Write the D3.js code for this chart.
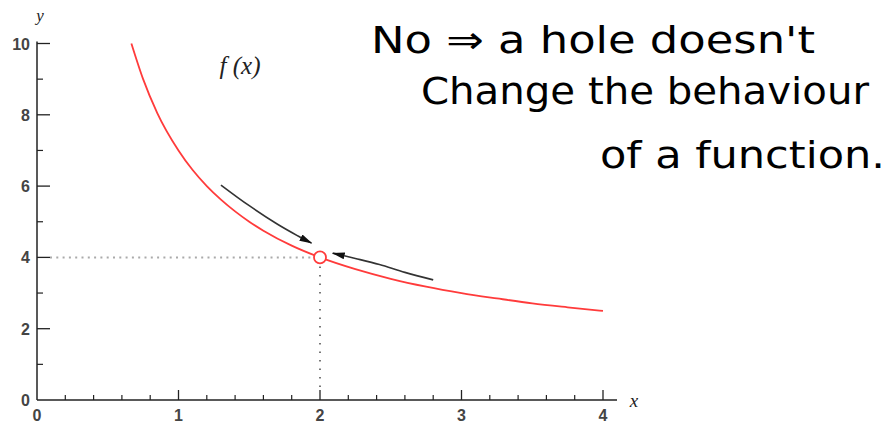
<!DOCTYPE html>
<html>
<head>
<meta charset="utf-8">
<script src="https://cdn.jsdelivr.net/npm/d3@7"></script>
<style>
  body { margin: 0; background: #fff; }
  svg { display: block; }
  .tick-label { font-family: "Liberation Sans", Arial, sans-serif; font-weight: bold; fill: #444; }
  .math { font-family: "Liberation Serif", "DejaVu Serif", serif; font-style: italic; fill: #222; }
  .note { font-family: "DejaVu Sans", sans-serif; font-weight: 400; font-size: 38px; fill: #000; }
</style>
</head>
<body>
<svg width="893" height="426"></svg>
<script>
/* globals d3 */

// curve points
var curveX = [0.667, 0.75, 0.85, 1, 1.1, 1.2, 1.3, 1.4, 1.5, 1.6, 1.8, 2, 2.25, 2.5, 2.75, 3, 3.25, 3.5, 3.75, 4];
var curveY = [10, 9, 8.05, 7, 6.45, 6, 5.62, 5.29, 5, 4.75, 4.33, 4, 3.67, 3.4, 3.18, 3, 2.85, 2.71, 2.6, 2.5];

// the hole
var holeX = 2, holeY = 4;

// the two arrows, drawn beside the curve
var arrowTopX = [1.3, 1.5, 1.7, 1.845, 1.94];
var arrowTopY = [6.03, 5.45, 4.93, 4.6, 4.4];
var arrowBotX = [2.8, 2.6, 2.42, 2.25, 2.09];
var arrowBotY = [3.37, 3.58, 3.8, 3.97, 4.12];

var xTicks = [0, 1, 2, 3, 4],
    yTicks = [0, 2, 4, 6, 8, 10];

var noteLines = ["No \u21D2 a hole doesn't", "Change the behaviour", "of a function."];

var svg = d3.select("svg");

var x = d3.scaleLinear().domain([0, 4]).range([37, 603]),
    y = d3.scaleLinear().domain([0, 10]).range([400, 43.5]);

var defs = svg.append("defs");
defs.append("marker")
  .attr("id", "head")
  .attr("viewBox", "0 0 13 7")
  .attr("refX", 12).attr("refY", 3.5)
  .attr("markerWidth", 13).attr("markerHeight", 7)
  .attr("markerUnits", "userSpaceOnUse")
  .attr("orient", "auto")
  .append("path")
  .attr("d", "M0,0 L13,3.5 L0,7 Z")
  .attr("fill", "#111");

// axes: ticks point inward
var minorX = d3.range(1, 21).map(function(i) { return i * 0.2; }).filter(function(v) { return Math.abs(v - Math.round(v)) > 0.01; });
var minorY = [1, 3, 5, 7, 9];

var gx = svg.append("g").attr("transform", "translate(0," + y(0) + ")");
gx.append("line").attr("x1", x(0)).attr("x2", 617).attr("stroke", "#222").attr("stroke-width", 1.5);
gx.selectAll(".maj").data(xTicks.filter(function(d) { return d > 0; })).enter().append("line")
  .attr("x1", function(d) { return x(d); }).attr("x2", function(d) { return x(d); })
  .attr("y1", 0).attr("y2", -10).attr("stroke", "#222").attr("stroke-width", 1.3);
gx.selectAll(".min").data(minorX).enter().append("line")
  .attr("x1", function(d) { return x(d); }).attr("x2", function(d) { return x(d); })
  .attr("y1", 0).attr("y2", -5).attr("stroke", "#222").attr("stroke-width", 1.2);
gx.selectAll("text").data(xTicks).enter().append("text")
  .attr("class", "tick-label")
  .attr("font-size", 16)
  .attr("x", function(d) { return x(d); })
  .attr("y", 21)
  .attr("text-anchor", "middle")
  .text(function(d) { return d; });

var gy = svg.append("g").attr("transform", "translate(" + x(0) + ",0)");
gy.append("line").attr("y1", y(0)).attr("y2", y(10) - 2).attr("stroke", "#222").attr("stroke-width", 1.5);
gy.selectAll(".maj").data(yTicks.filter(function(d) { return d > 0; })).enter().append("line")
  .attr("y1", function(d) { return y(d); }).attr("y2", function(d) { return y(d); })
  .attr("x1", 0).attr("x2", 13).attr("stroke", "#222").attr("stroke-width", 1.3);
gy.selectAll(".min").data(minorY).enter().append("line")
  .attr("y1", function(d) { return y(d); }).attr("y2", function(d) { return y(d); })
  .attr("x1", 0).attr("x2", 6).attr("stroke", "#222").attr("stroke-width", 1.2);
gy.selectAll("text").data(yTicks).enter().append("text")
  .attr("class", "tick-label")
  .attr("font-size", 16)
  .attr("x", -7)
  .attr("y", function(d) { return y(d) + 6; })
  .attr("text-anchor", "end")
  .text(function(d) { return d; });

svg.append("text").attr("class", "math").attr("x", 40).attr("y", 21)
  .attr("text-anchor", "middle").attr("font-size", 17).text("y");
svg.append("text").attr("class", "math").attr("x", 634).attr("y", 407)
  .attr("text-anchor", "middle").attr("font-size", 19).text("x");

// dotted guides
svg.append("line")
  .attr("x1", x(0) + 13).attr("x2", x(holeX) - 7)
  .attr("y1", y(holeY)).attr("y2", y(holeY))
  .attr("stroke", "#aaa").attr("stroke-width", 2).attr("stroke-dasharray", "2,4.3");
svg.append("line")
  .attr("x1", x(holeX)).attr("x2", x(holeX))
  .attr("y1", y(holeY) + 9).attr("y2", y(0) - 12)
  .attr("stroke", "#555").attr("stroke-width", 1.6).attr("stroke-dasharray", "1.5,7");

// the function
var pts = curveX.map(function(v, i) { return [v, curveY[i]]; });
var line = d3.line().x(function(d) { return x(d[0]); }).y(function(d) { return y(d[1]); })
  .curve(d3.curveMonotoneX);
svg.append("path").datum(pts)
  .attr("d", line)
  .attr("fill", "none").attr("stroke", "#ff3b3b").attr("stroke-width", 1.8);

// arrows
var arrowLine = d3.line().x(function(d) { return x(d[0]); }).y(function(d) { return y(d[1]); })
  .curve(d3.curveCatmullRom);
[[arrowTopX, arrowTopY], [arrowBotX, arrowBotY]].forEach(function(a) {
  var p = a[0].map(function(v, i) { return [v, a[1][i]]; });
  svg.append("path").datum(p)
    .attr("d", arrowLine)
    .attr("fill", "none").attr("stroke", "#333").attr("stroke-width", 1.6)
    .attr("marker-end", "url(#head)");
});

// hole
svg.append("circle")
  .attr("cx", x(holeX)).attr("cy", y(holeY)).attr("r", 6)
  .attr("fill", "#fff").attr("stroke", "#ff3b3b").attr("stroke-width", 1.8);

// label
svg.append("text").attr("class", "math").attr("x", 240).attr("y", 74)
  .attr("text-anchor", "middle").attr("font-size", 25).text("f (x)");

// note
var noteX = [371, 421, 600], noteY = [53, 104, 168], noteW = [444, 448, 285];
svg.selectAll(".note").data(noteLines).enter().append("text")
  .attr("class", "note")
  .attr("x", function(d, i) { return noteX[i]; })
  .attr("y", function(d, i) { return noteY[i]; })
  .attr("textLength", function(d, i) { return noteW[i]; })
  .attr("lengthAdjust", "spacingAndGlyphs")
  .text(function(d) { return d; });
</script>
</body>
</html>
